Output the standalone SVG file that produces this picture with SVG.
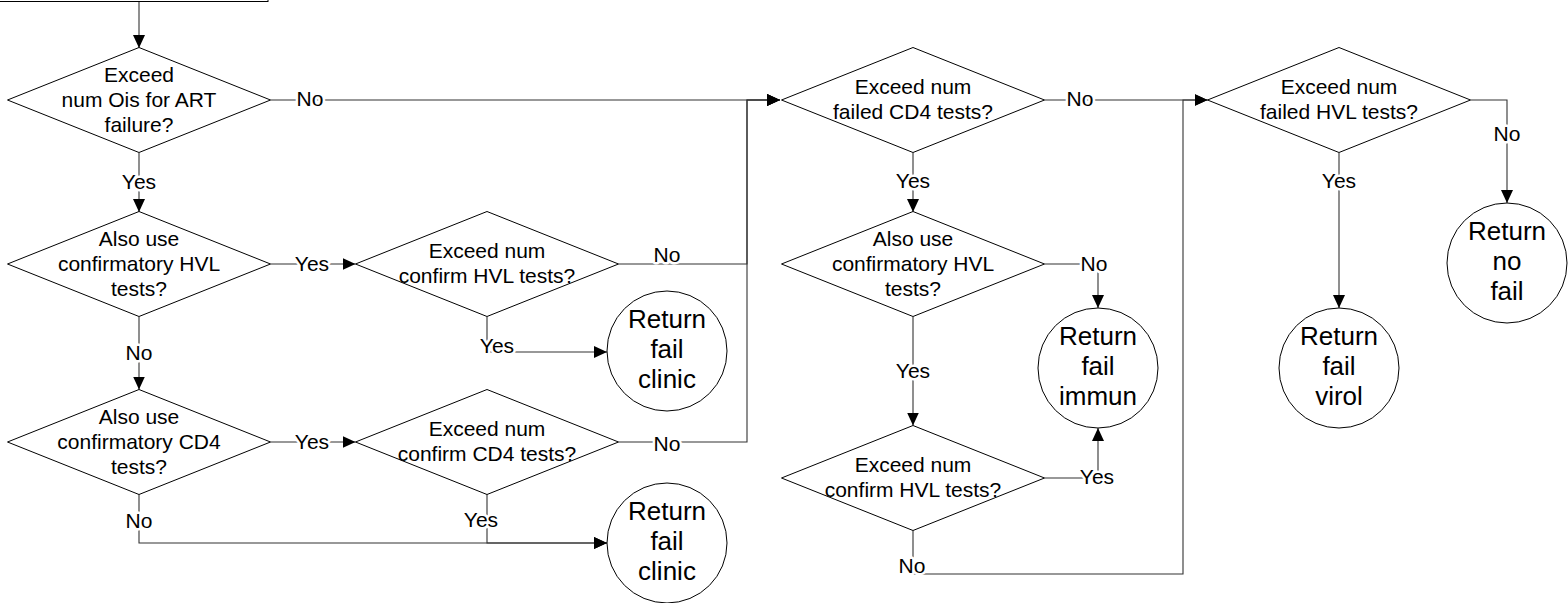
<svg xmlns="http://www.w3.org/2000/svg" width="1568" height="603" viewBox="0 0 1568 603">
<style>
.shape{fill:#fff;stroke:#000;stroke-width:1}
.t{font-family:"Liberation Sans",Arial,sans-serif;font-size:21px;fill:#000;text-anchor:middle}
.c{font-family:"Liberation Sans",Arial,sans-serif;font-size:26px;fill:#000;text-anchor:middle}
.conn{fill:none;stroke:#333;stroke-width:1.1}
.lbl{font-family:"Liberation Sans",Arial,sans-serif;font-size:21px;fill:#000;text-anchor:middle;stroke:#fff;stroke-width:5;paint-order:stroke;stroke-linejoin:round}
</style>
<defs>
<marker id="ah" markerUnits="userSpaceOnUse" markerWidth="14" markerHeight="12" refX="13" refY="6" orient="auto">
<path d="M0,0 L13,6 L0,12 z" fill="#000"/>
</marker>
</defs>
<g id="start"><rect class="shape" x="-2" y="-60" width="270" height="61.5"/></g>
<g id="connectors">
<path class="conn" d="M139,2 V48" marker-end="url(#ah)"/>
<path class="conn" d="M139,153 V212" marker-end="url(#ah)"/>
<path class="conn" d="M270.5,100 H780" marker-end="url(#ah)"/>
<path class="conn" d="M139,317 V389.5" marker-end="url(#ah)"/>
<path class="conn" d="M270.5,264 H355.5" marker-end="url(#ah)"/>
<path class="conn" d="M618.5,264 H747 V100 H780" marker-end="url(#ah)"/>
<path class="conn" d="M487,317 V352 H607" marker-end="url(#ah)"/>
<path class="conn" d="M270.5,442 H355.5" marker-end="url(#ah)"/>
<path class="conn" d="M139,494.5 V543 H607" marker-end="url(#ah)"/>
<path class="conn" d="M618.5,442 H747 V100 H780" marker-end="url(#ah)"/>
<path class="conn" d="M487,494.5 V543 H607" marker-end="url(#ah)"/>
<path class="conn" d="M1044.5,100 H1207.5" marker-end="url(#ah)"/>
<path class="conn" d="M913,153 V212" marker-end="url(#ah)"/>
<path class="conn" d="M1044.5,264 H1098 V308" marker-end="url(#ah)"/>
<path class="conn" d="M913,317 V425.5" marker-end="url(#ah)"/>
<path class="conn" d="M1044.5,478 H1098 V428" marker-end="url(#ah)"/>
<path class="conn" d="M913,530.5 V574 H1183 V100 H1207.5" marker-end="url(#ah)"/>
<path class="conn" d="M1470.5,100 H1507 V203" marker-end="url(#ah)"/>
<path class="conn" d="M1339,153 V308" marker-end="url(#ah)"/>
<text class="lbl" x="139" y="189">Yes</text>
<text class="lbl" x="310" y="106">No</text>
<text class="lbl" x="312" y="271">Yes</text>
<text class="lbl" x="139" y="360">No</text>
<text class="lbl" x="667" y="262">No</text>
<text class="lbl" x="497" y="353">Yes</text>
<text class="lbl" x="312" y="449">Yes</text>
<text class="lbl" x="139" y="528">No</text>
<text class="lbl" x="667" y="451">No</text>
<text class="lbl" x="481" y="527">Yes</text>
<text class="lbl" x="913" y="188">Yes</text>
<text class="lbl" x="1080" y="106">No</text>
<text class="lbl" x="1094" y="271">No</text>
<text class="lbl" x="913" y="378">Yes</text>
<text class="lbl" x="1097" y="484">Yes</text>
<text class="lbl" x="912" y="573">No</text>
<text class="lbl" x="1507" y="141">No</text>
<text class="lbl" x="1339" y="188">Yes</text>
</g>
<g id="d1"><polygon class="shape" points="139,47.5 270.5,100 139,152.5 7.5,100"/>
<text class="t" x="139" y="82">Exceed</text><text class="t" x="139" y="107">num Ois for ART</text><text class="t" x="139" y="132">failure?</text></g>
<g id="d2"><polygon class="shape" points="139,211.5 270.5,264 139,316.5 7.5,264"/>
<text class="t" x="139" y="246">Also use</text><text class="t" x="139" y="271">confirmatory HVL</text><text class="t" x="139" y="296">tests?</text></g>
<g id="d3"><polygon class="shape" points="139,389.5 270.5,442 139,494.5 7.5,442"/>
<text class="t" x="139" y="424">Also use</text><text class="t" x="139" y="449">confirmatory CD4</text><text class="t" x="139" y="474">tests?</text></g>
<g id="d4"><polygon class="shape" points="487,211.5 618.5,264 487,316.5 355.5,264"/>
<text class="t" x="487" y="258">Exceed num</text><text class="t" x="487" y="283">confirm HVL tests?</text></g>
<g id="d5"><polygon class="shape" points="487,389.5 618.5,442 487,494.5 355.5,442"/>
<text class="t" x="487" y="436">Exceed num</text><text class="t" x="487" y="461">confirm CD4 tests?</text></g>
<g id="c1"><circle class="shape" cx="667" cy="351" r="60"/>
<text class="c" x="667" y="328">Return</text><text class="c" x="667" y="358">fail</text><text class="c" x="667" y="388">clinic</text></g>
<g id="c2"><circle class="shape" cx="667" cy="543" r="60"/>
<text class="c" x="667" y="520">Return</text><text class="c" x="667" y="550">fail</text><text class="c" x="667" y="580">clinic</text></g>
<g id="d6"><polygon class="shape" points="913,47.5 1044.5,100 913,152.5 781.5,100"/>
<text class="t" x="913" y="94">Exceed num</text><text class="t" x="913" y="119">failed CD4 tests?</text></g>
<g id="d7"><polygon class="shape" points="913,211.5 1044.5,264 913,316.5 781.5,264"/>
<text class="t" x="913" y="246">Also use</text><text class="t" x="913" y="271">confirmatory HVL</text><text class="t" x="913" y="296">tests?</text></g>
<g id="d9"><polygon class="shape" points="913,425.5 1044.5,478 913,530.5 781.5,478"/>
<text class="t" x="913" y="472">Exceed num</text><text class="t" x="913" y="497">confirm HVL tests?</text></g>
<g id="c3"><circle class="shape" cx="1098" cy="368" r="60"/>
<text class="c" x="1098" y="345">Return</text><text class="c" x="1098" y="375">fail</text><text class="c" x="1098" y="405">immun</text></g>
<g id="d8"><polygon class="shape" points="1339,47.5 1470.5,100 1339,152.5 1207.5,100"/>
<text class="t" x="1339" y="94">Exceed num</text><text class="t" x="1339" y="119">failed HVL tests?</text></g>
<g id="c4"><circle class="shape" cx="1507" cy="263" r="60"/>
<text class="c" x="1507" y="240">Return</text><text class="c" x="1507" y="270">no</text><text class="c" x="1507" y="300">fail</text></g>
<g id="c5"><circle class="shape" cx="1339" cy="368" r="60"/>
<text class="c" x="1339" y="345">Return</text><text class="c" x="1339" y="375">fail</text><text class="c" x="1339" y="405">virol</text></g>
</svg>
